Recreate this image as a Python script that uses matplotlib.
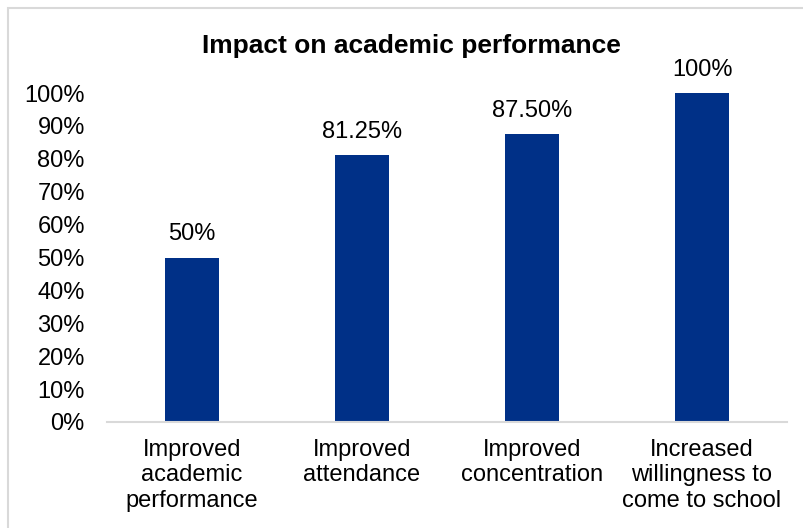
import matplotlib.pyplot as plt
from matplotlib.patches import Rectangle

categories = ["Improved\nacademic\nperformance", "Improved\nattendance",
              "Improved\nconcentration", "Increased\nwillingness to\ncome to school"]
values = [0.50, 0.8125, 0.875, 1.00]
labels = ["50%", "81.25%", "87.50%", "100%"]
yticks = [i / 10 for i in range(11)]

plt.rcParams['font.family'] = ['Liberation Sans', 'DejaVu Sans']

fig = plt.figure(figsize=(8.04, 5.28), dpi=100)
ax = fig.add_axes([107 / 804, 106 / 528, 680 / 804, 329 / 528])

# chart area outline
fig.patches.append(Rectangle((8 / 804, -0.1), 1.2, (520 / 528) + 0.1,
                             transform=fig.transFigure, fill=False,
                             edgecolor='#d9d9d9', linewidth=1.5))

x = range(len(categories))
ax.bar(x, values, width=0.32, color='#003087')
for xi, v, lab in zip(x, values, labels):
    ax.text(xi, v + 0.037, lab, ha='center', va='bottom', fontsize=17, clip_on=False)

ax.set_xlim(-0.5, 3.5)
ax.set_ylim(0, 1)
ax.set_yticks(yticks)
ax.set_yticklabels([f"{int(t * 100)}%" for t in yticks])
ax.set_xticks(list(x))
ax.set_xticklabels(categories, linespacing=1.22)
ax.tick_params(axis='both', length=0, labelsize=17, colors='black')
ax.tick_params(axis='x', pad=12)
ax.tick_params(axis='y', pad=16)
for s in ['top', 'right', 'left']:
    ax.spines[s].set_visible(False)
ax.spines['bottom'].set_color('#d9d9d9')
ax.spines['bottom'].set_linewidth(1.5)

fig.text(0.512, 0.913, "Impact on academic performance", ha='center', va='center',
         fontsize=19, fontweight='bold')

fig.savefig('out.png', dpi=100)
